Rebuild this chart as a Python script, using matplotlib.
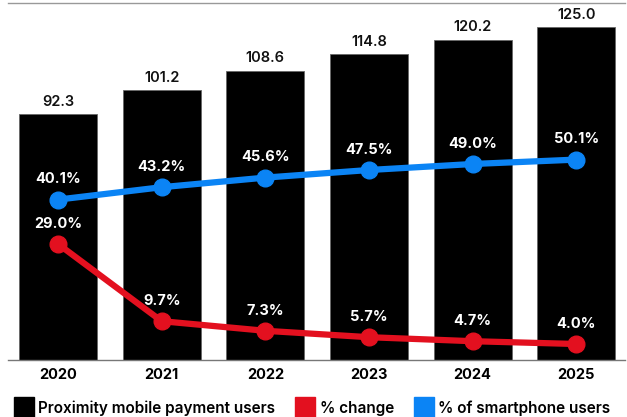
import numpy as np
import matplotlib.pyplot as plt

plt.rcParams['font.family'] = ['Inter', 'DejaVu Sans']

years = ['2020', '2021', '2022', '2023', '2024', '2025']
users = [92.3, 101.2, 108.6, 114.8, 120.2, 125.0]
pct_change = [29.0, 9.7, 7.3, 5.7, 4.7, 4.0]
pct_smartphone = [40.1, 43.2, 45.6, 47.5, 49.0, 50.1]

red = '#e3101f'
blue = '#0b84f5'

fig = plt.figure(figsize=(6.27, 4.17), dpi=100)
ax = fig.add_axes([8 / 627, 1 - 360 / 417, 617 / 627, 357 / 417])
x = np.arange(len(years))

ax.bar(x, users, width=0.75, color='black', edgecolor='#666666', linewidth=0.6, zorder=2)
for xi, v in zip(x, users):
    ax.text(xi, v + 2, f'{v:.1f}', ha='center', va='bottom', fontsize=10.5,
            fontweight='semibold', color='#111111')
ax.set_ylim(0, 134)
ax.set_xlim(-0.483, 5.47)
ax.set_yticks([])
ax.set_xticks(x)
ax.set_xticklabels(years, fontsize=10.5, fontweight='bold')
ax.tick_params(axis='x', length=0, pad=6)
for s in ['left', 'right']:
    ax.spines[s].set_visible(False)
ax.spines['top'].set_color('#999999')
ax.spines['bottom'].set_color('#777777')
ax.spines['top'].set_linewidth(1)
ax.spines['bottom'].set_linewidth(1)

ax2 = ax.twinx()
ax2.set_ylim(0, 89.25)
ax2.set_yticks([])
for s in ax2.spines.values():
    s.set_visible(False)
ax2.plot(x, pct_smartphone, color=blue, lw=4.5, marker='o', ms=12, zorder=3,
         solid_capstyle='round')
ax2.plot(x, pct_change, color=red, lw=4.5, marker='o', ms=12, zorder=3,
         solid_capstyle='round')
for xi, v in zip(x, pct_smartphone):
    ax2.text(xi, v + 3.3, f'{v:.1f}%', ha='center', va='bottom', fontsize=10.5,
             fontweight='bold', color='white')
for xi, v in zip(x, pct_change):
    ax2.text(xi, v + 3.3, f'{v:.1f}%', ha='center', va='bottom', fontsize=10.5,
             fontweight='bold', color='white')

handles = [plt.Line2D([], [], marker='s', ls='', color=c, ms=14)
           for c in ['black', red, blue]]
fig.legend(handles, ['Proximity mobile payment users', '% change', '% of smartphone users'],
           loc='center', bbox_to_anchor=(0.5, 1 - 408 / 417), ncol=3, frameon=False,
           handlelength=0.9, handletextpad=0.5, columnspacing=1.5,
           prop={'weight': 'semibold', 'size': 11})

fig.savefig('out.png', dpi=100)
